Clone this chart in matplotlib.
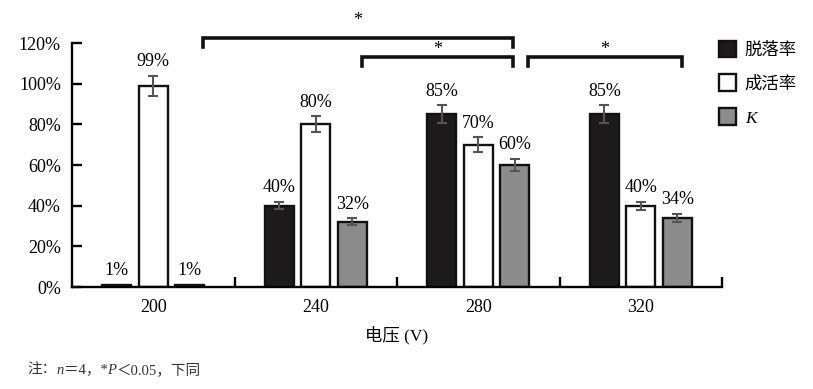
import matplotlib
matplotlib.use("Agg")
import matplotlib.pyplot as plt
import numpy as np
from matplotlib.patches import Patch

plt.rcParams['font.family'] = ['Liberation Serif', 'Noto Sans CJK SC', 'DejaVu Sans']
plt.rcParams['mathtext.fontset'] = 'custom'
plt.rcParams['mathtext.it'] = 'Liberation Serif:italic'

# ---- data ----
categories = ['200', '240', '280', '320']
series_names = ['脱落率', '成活率', 'K']
shedding = [1, 40, 85, 85]
survival = [99, 80, 70, 40]
k_vals = [1, 32, 60, 34]
shedding_err = [0, 1.8, 4.3, 4.3]
survival_err = [4.9, 4.0, 3.7, 2.0]
k_err = [0, 1.7, 3.1, 1.9]
y_ticks = [0, 20, 40, 60, 80, 100, 120]
x_label = '电压 (V)'
note_parts = [('注：', 'normal'), ('n', 'italic'), ('＝4，*', 'normal'), ('P', 'italic'),
              ('＜0.05，下同', 'normal')]

series = [shedding, survival, k_vals]
errors = [shedding_err, survival_err, k_err]
fills = ['#1c1a1a', '#ffffff', '#8c8c8c']

fig = plt.figure(figsize=(8.13, 3.89), dpi=100)
ax = fig.add_axes([72/813, 1-287/389, 650/813, 244/389])

x = np.arange(len(categories))
width = 0.18
step = 0.224
for i, (vals, errs, fc) in enumerate(zip(series, errors, fills)):
    pos = x + (i - 1) * step
    ax.bar(pos, vals, width, color=fc, edgecolor='#111111', linewidth=1.7, zorder=2)
    idx = [j for j, e in enumerate(errs) if e > 0]
    ax.errorbar(pos[idx], np.array(vals)[idx], yerr=np.array(errs)[idx], fmt='none',
                ecolor='#555555', elinewidth=1.5, capsize=3.5, capthick=1.5, zorder=3)
    for p, v, e in zip(pos, vals, errs):
        ax.annotate(f'{v}%', (p, v + e), xytext=(0, 4), textcoords='offset points',
                    ha='center', va='bottom', fontsize=13)

ax.set_xlim(-0.5, len(categories) - 0.5)
ax.set_ylim(0, 120)
ax.set_yticks(y_ticks)
ax.set_yticklabels([f'{t}%' for t in y_ticks])
ax.set_xticks(x)
ax.set_xticklabels(categories)
ax.set_xticks(list(x + 0.5), minor=True)
ax.tick_params(axis='x', which='major', length=0, pad=9, labelsize=13)
ax.tick_params(axis='x', which='minor', direction='in', length=7, width=1.7)
ax.tick_params(axis='y', direction='in', length=7, width=1.7, pad=8, labelsize=13)
for s in ['top', 'right']:
    ax.spines[s].set_visible(False)
for s in ['left', 'bottom']:
    ax.spines[s].set_linewidth(1.7)
ax.set_xlabel(x_label, fontsize=12.5, labelpad=7)

# significance brackets
def bracket(x0, x1, y, h, sy):
    ax.plot([x0, x0, x1, x1], [y - h, y, y, y - h], color='#111111', lw=2.6,
            clip_on=False, solid_joinstyle='miter', zorder=4)
    ax.text((x0 + x1) / 2, sy, '*', ha='center', va='center', fontsize=13)

bracket(0.305, 2.215, 122.5, 4.5, 131.0)
bracket(1.285, 2.215, 113.0, 4.5, 117.0)
bracket(2.305, 3.255, 113.0, 4.5, 117.0)

handles = [Patch(facecolor=fc, edgecolor='#111111', linewidth=1.7) for fc in fills]
labels = ['脱落率', '成活率', '$K$']
fig.legend(handles, labels, loc='upper left', bbox_to_anchor=(703/813, 1-25/389),
           frameon=False, fontsize=12.5, handlelength=1.0, handleheight=1.1,
           handletextpad=0.5, labelspacing=0.9)

# note line built from consecutive pieces
fig.canvas.draw()
renderer = fig.canvas.get_renderer()
xpos = 27
for txt, style in note_parts:
    t = fig.text(xpos / 813, 1 - 370 / 389, txt, fontsize=10.5, style=style,
                 va='center', ha='left', color='#333333')
    bb = t.get_window_extent(renderer)
    xpos += bb.width

fig.savefig('out.png', dpi=100)
